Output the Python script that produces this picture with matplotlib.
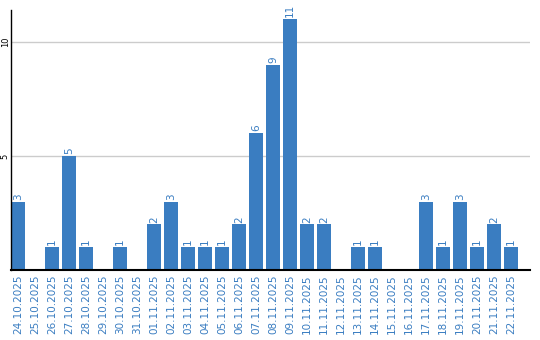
import numpy as np
import matplotlib
matplotlib.use('Agg')
from matplotlib import pyplot as plt

dates = ['24.10.2025', '25.10.2025', '26.10.2025', '27.10.2025', '28.10.2025',
         '29.10.2025', '30.10.2025', '31.10.2025', '01.11.2025', '02.11.2025',
         '03.11.2025', '04.11.2025', '05.11.2025', '06.11.2025', '07.11.2025',
         '08.11.2025', '09.11.2025', '10.11.2025', '11.11.2025', '12.11.2025',
         '13.11.2025', '14.11.2025', '15.11.2025', '16.11.2025', '17.11.2025',
         '18.11.2025', '19.11.2025', '20.11.2025', '21.11.2025', '22.11.2025']
counts = [3, 0, 1, 5, 1, 0, 1, 0, 2, 3, 1, 1, 1, 2, 6, 9, 11, 2, 2, 0,
          1, 1, 0, 0, 3, 1, 3, 1, 2, 1]

blue = '#3a7dc1'

fig = plt.figure(figsize=(5.4, 3.4), dpi=100)
ax = fig.add_axes([11/540, 70/340, 519/540, 260/340])

x = np.arange(len(dates))
w = 14/17
ax.bar(x, counts, width=w, align='edge', color=blue, zorder=2)

# value labels above non-empty bars
for xi, c in zip(x, counts):
    if c > 0:
        ax.text(xi + w/2, c + 0.08, str(c), rotation=90, ha='center', va='bottom',
                color=blue, fontsize=7.5)

ax.set_xlim(0, 519/17)
ax.set_ylim(0, 260/22.8)
ax.set_yticks([5, 10])
ax.set_yticklabels(['5', '10'], rotation=90, va='center', fontsize=6)
ax.yaxis.grid(True, color='#cccccc', linewidth=1, zorder=0)
ax.set_xticks(x + w/2)
ax.set_xticklabels(dates, rotation=90, color=blue, fontsize=7.5)
ax.tick_params(length=0, pad=3)
ax.tick_params(axis='y', pad=1)
for s in ['top', 'right']:
    ax.spines[s].set_visible(False)
ax.spines['left'].set_linewidth(1)
ax.spines['bottom'].set_linewidth(1.5)

plt.savefig('out.png', dpi=100)
